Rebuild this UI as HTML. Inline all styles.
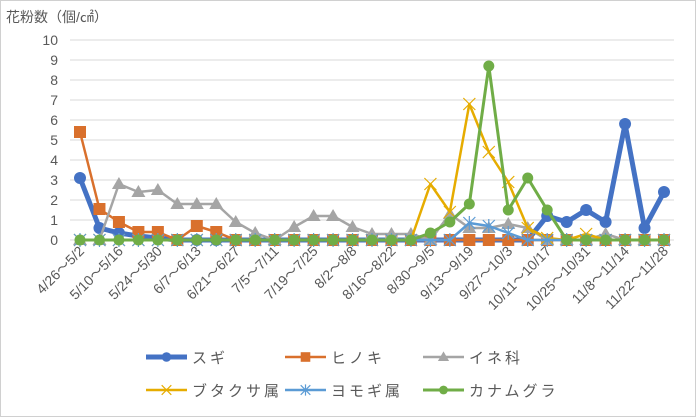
<!DOCTYPE html>
<html><head><meta charset="utf-8"><style>
body{margin:0;background:#fff}
svg{display:block;font-family:"Liberation Sans","Noto Sans CJK JP",sans-serif}
</style></head><body>
<svg id="c" width="696" height="417" viewBox="0 0 696 417">
<rect x="0.5" y="0.5" width="695" height="416" fill="#fff" stroke="#d0d0d0"/>
<text x="6" y="22" font-size="14" fill="#595959">花粉数（個/㎠）</text>
<g id="grid"></g><g id="xl"></g><g id="series"></g><g id="legend"></g>
</svg>
<script>
const categories=["4/26～5/2","5/3～5/9","5/10～5/16","5/17～5/23","5/24～5/30","5/31～6/6","6/7～6/13","6/14～6/20","6/21～6/27","6/28～7/4","7/5～7/11","7/12～7/18","7/19～7/25","7/26～8/1","8/2～8/8","8/9～8/15","8/16～8/22","8/23～8/29","8/30～9/5","9/6～9/12","9/13～9/19","9/20～9/26","9/27～10/3","10/4～10/10","10/11～10/17","10/18～10/24","10/25～10/31","11/1～11/7","11/8～11/14","11/15～11/21","11/22～11/28"];
const sugi=[3.1,0.6,0.35,0.2,0.1,0,0,0,0,0,0,0,0,0,0,0,0,0,0,0,0,0,0,0,1.2,0.9,1.5,0.9,5.8,0.6,2.4];
const hinoki=[5.4,1.55,0.9,0.4,0.4,0,0.7,0.4,0,0,0,0,0,0,0,0,0,0,0,0,0,0,0,0,0,0,0,0,0,0,0];
const ine=[0,0,2.8,2.4,2.5,1.8,1.8,1.8,0.9,0.35,0,0.65,1.2,1.2,0.65,0.3,0.3,0.3,0,1.3,0.6,0.6,0.8,0.6,0,0,0,0.3,0,0,0];
const butakusa=[0,0,0,0,0,0,0,0,0,0,0,0,0,0,0,0,0,0,2.8,1.4,6.8,4.4,2.9,0.6,0.1,0,0.3,0,0,0,0];
const yomogi=[0,0,0,0,0,0,0,0,0,0,0,0,0,0,0,0,0,0,0,0,0.85,0.7,0.35,0,0,0,0,0,0,0,0];
const kanamugura=[0,0,0,0,0,0,0,0,0,0,0,0,0,0,0,0,0,0,0.35,0.9,1.8,8.7,1.5,3.1,1.5,0,0,0,0,0,0];
const yTicks=[0,1,2,3,4,5,6,7,8,9,10];
const NS="http://www.w3.org/2000/svg";
function X(i){return 80+i*(584/30);}
function Y(v){return 240-v*20;}
function mk(t,a,p){const e=document.createElementNS(NS,t);for(const k in a)e.setAttribute(k,a[k]);p.appendChild(e);return e;}
const grid=document.getElementById('grid');
yTicks.forEach(t=>{
 const l=mk('line',{x1:70,x2:674,y1:Y(t),y2:Y(t),stroke:'#d9d9d9','stroke-width':1},grid);
 
 
 const tx=mk('text',{x:58,y:Y(t)+5,'text-anchor':'end','font-size':14,fill:'#595959'},grid);
 tx.textContent=t;
 
 
});
const xl=document.getElementById('xl');
categories.forEach((c,i)=>{
 if(i%2)return;
 const tx=mk('text',{x:X(i)+5,y:252,'text-anchor':'end','font-size':14,fill:'#595959',transform:`rotate(-45 ${X(i)+5} 252)`},xl);
 tx.textContent=c;
 
 
});
const S=[
 {n:'スギ',d:sugi,c:'#4472c4',w:5,m:'circle',k:'sugi'},
 {n:'ヒノキ',d:hinoki,c:'#d9702c',w:2.5,m:'square',k:'hinoki'},
 {n:'イネ科',d:ine,c:'#a5a5a5',w:2.5,m:'tri',k:'ine'},
 {n:'ブタクサ属',d:butakusa,c:'#e6ac00',w:2.5,m:'x',k:'butakusa'},
 {n:'ヨモギ属',d:yomogi,c:'#5b9bd5',w:2.5,m:'star',k:'yomogi'},
 {n:'カナムグラ',d:kanamugura,c:'#70ad47',w:3,m:'circle',k:'kanamugura'}
];
function marker(s,x,y,g,sc){
 sc=sc||1;
 let e;
 if(s.m==='circle')e=mk('circle',{cx:x,cy:y,r:(s.k==='sugi'?6:5.5)*sc,fill:s.c},g);
 else if(s.m==='square')e=mk('rect',{x:x-6*sc,y:y-6*sc,width:12*sc,height:12*sc,fill:s.c},g);
 else if(s.m==='tri')e=mk('path',{d:`M${x} ${y-7*sc}L${x+7*sc} ${y+5*sc}L${x-7*sc} ${y+5*sc}Z`,fill:s.c},g);
 else if(s.m==='x')e=mk('path',{d:`M${x-6*sc} ${y-6*sc}L${x+6*sc} ${y+6*sc}M${x+6*sc} ${y-6*sc}L${x-6*sc} ${y+6*sc}`,stroke:s.c,'stroke-width':1.2},g);
 else e=mk('path',{d:`M${x-6*sc} ${y-6*sc}L${x+6*sc} ${y+6*sc}M${x+6*sc} ${y-6*sc}L${x-6*sc} ${y+6*sc}M${x} ${y-7*sc}L${x} ${y+7*sc}`,stroke:s.c,'stroke-width':1.2},g);
 return e;
}
const sg=document.getElementById('series');
S.forEach(s=>{
 const g=mk('g',{},sg);
 
 
 const p=mk('polyline',{points:s.d.map((v,i)=>X(i)+','+Y(v)).join(' '),fill:'none',stroke:s.c,'stroke-width':s.w,'stroke-linejoin':'round'},g);
 
 
 s.d.forEach((v,i)=>{
  const e=marker(s,X(i),Y(v),g);
  
  
 });
});
const lg=document.getElementById('legend');
const pos=[[146,357],[285,357],[423,357],[146,390],[285,390],[423,390]];
S.forEach((s,i)=>{
 const [x,y]=pos[i];
 const g=mk('g',{},lg);
 
 
 mk('line',{x1:x,x2:x+41,y1:y,y2:y,stroke:s.c,'stroke-width':s.w},g);
 marker(s,x+20.5,y,g,0.8);
 const t=mk('text',{x:x+46,y:y+6,'font-size':15,fill:'#595959','letter-spacing':3},g);
 t.textContent=s.n;
});
</script>
</body></html>
